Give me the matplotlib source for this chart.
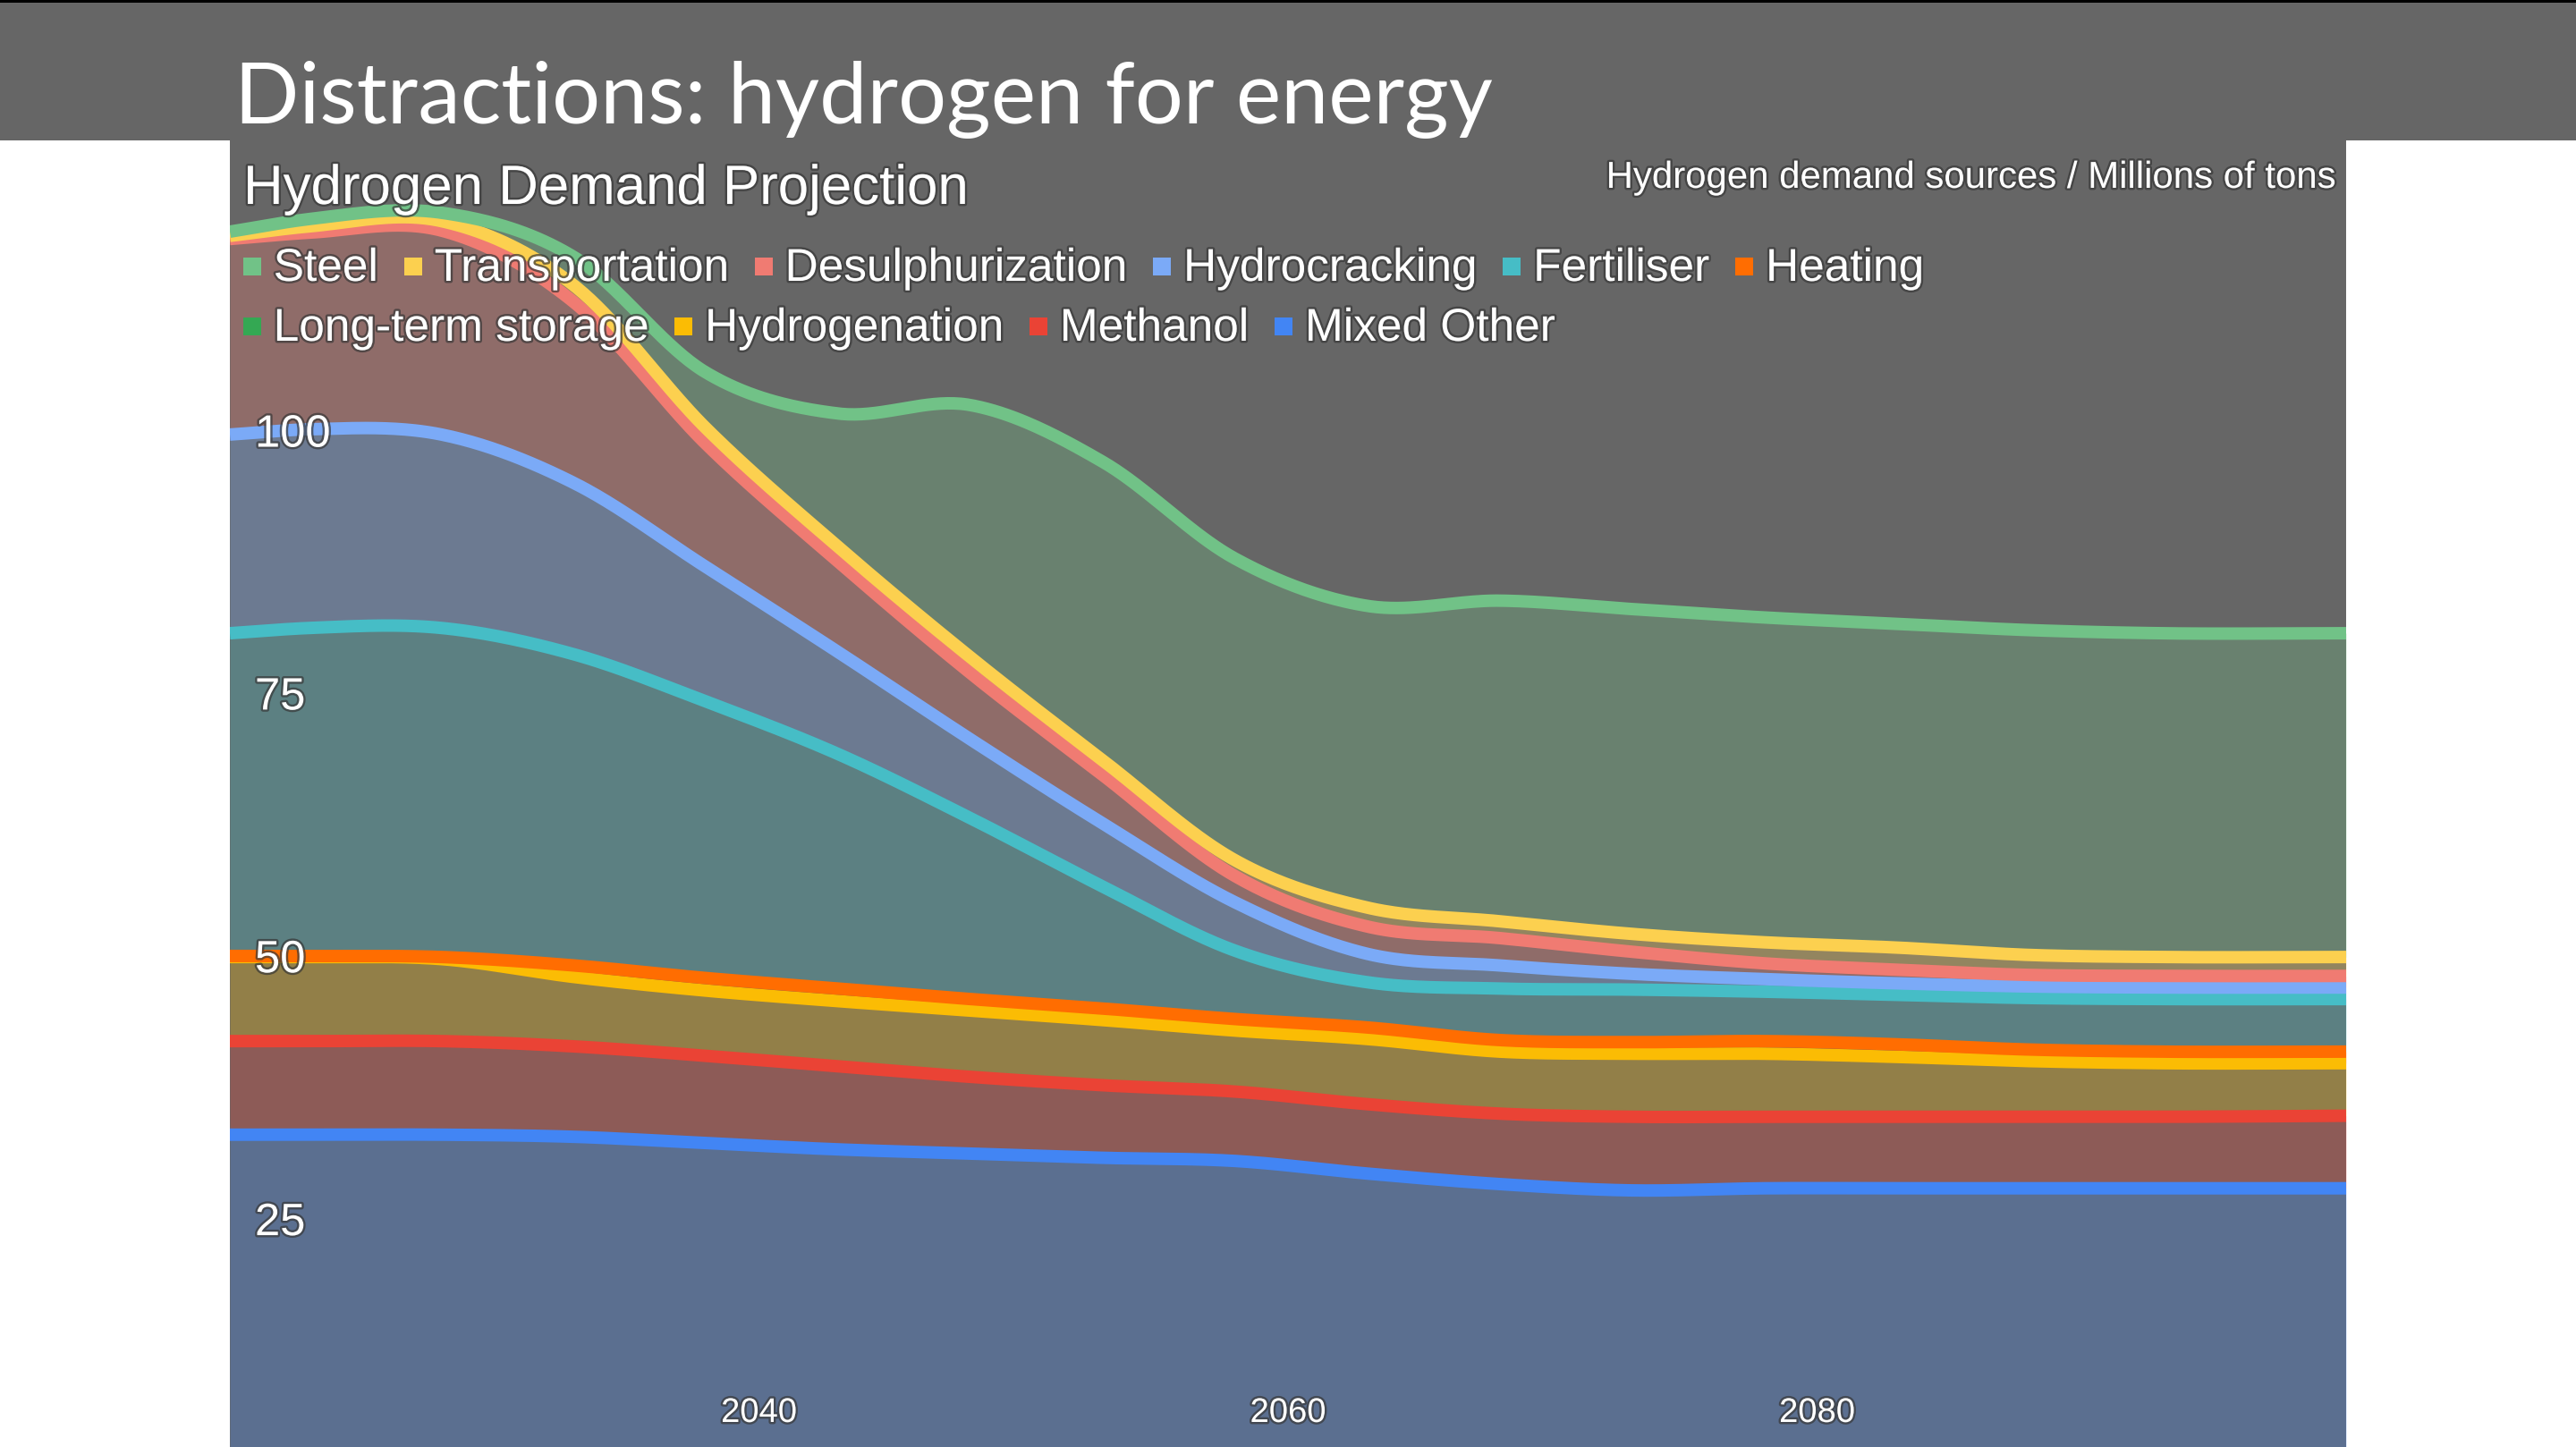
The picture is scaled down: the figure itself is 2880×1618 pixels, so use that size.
import numpy as np
import matplotlib
matplotlib.use('Agg')
import matplotlib.pyplot as plt
from matplotlib import patheffects as pe
from matplotlib.patches import Rectangle
from matplotlib.transforms import offset_copy

W, H, DPI = 2880, 1618, 100

# data (millions of tons, stacked)
years = [2020, 2023, 2028, 2033, 2038, 2043, 2048, 2053, 2058, 2063, 2068, 2073, 2078, 2083, 2088, 2093, 2100]
mixed_other   = [33.0, 33.0, 33.0, 32.8, 32.2, 31.6, 31.2, 30.8, 30.5, 29.3, 28.3, 27.7, 27.9, 27.9, 27.9, 27.9, 27.9]
methanol      = [8.9, 8.9, 8.9, 8.6, 8.3, 7.9, 7.3, 6.9, 6.6, 6.6, 6.7, 7.0, 6.8, 6.8, 6.8, 6.8, 6.9]
hydrogenation = [8.0, 8.0, 7.8, 6.6, 6.2, 6.2, 6.3, 6.2, 5.8, 6.2, 5.9, 6.0, 6.0, 5.7, 5.3, 5.1, 5.0]
long_term     = [0.0] * 17
heating       = [0.1, 0.1, 0.2, 1.1, 1.2, 1.2, 1.1, 1.1, 1.1, 1.1, 1.1, 1.1, 1.2, 1.2, 1.1, 1.1, 1.1]
fertiliser    = [30.7, 31.2, 31.3, 29.6, 26.3, 22.3, 17.2, 11.6, 6.5, 4.3, 4.9, 5.0, 4.7, 4.7, 4.9, 5.0, 5.0]
hydrocracking = [18.9, 18.9, 18.4, 16.3, 12.8, 9.7, 7.5, 6.0, 4.6, 2.7, 2.2, 1.5, 1.2, 1.1, 1.1, 1.1, 1.1]
desulph       = [18.6, 18.7, 19.4, 17.2, 11.7, 8.6, 6.3, 4.6, 2.5, 2.6, 2.6, 2.1, 1.5, 1.3, 1.1, 1.1, 1.1]
transport     = [0.3, 0.6, 0.9, 1.6, 1.5, 1.4, 1.5, 1.4, 1.5, 1.8, 1.6, 1.7, 2.0, 2.1, 1.9, 1.8, 1.8]
steel         = [0.4, 0.7, 0.8, 2.7, 5.3, 12.7, 24.0, 28.4, 28.7, 28.7, 30.5, 30.9, 30.9, 30.8, 30.9, 30.8, 30.8]

# bottom of the stack first
stack = [
    ('Mixed Other', mixed_other, '#4285F4'),
    ('Methanol', methanol, '#EA4335'),
    ('Hydrogenation', hydrogenation, '#FBBC04'),
    ('Long-term storage', long_term, '#34A853'),
    ('Heating', heating, '#FF6D01'),
    ('Fertiliser', fertiliser, '#46BDC6'),
    ('Hydrocracking', hydrocracking, '#7BAAF7'),
    ('Desulphurization', desulph, '#F07B72'),
    ('Transportation', transport, '#FCD04F'),
    ('Steel', steel, '#71C287'),
]
yticks = [25, 50, 75, 100]
xticks = [2040, 2060, 2080]

BG = '#666666'
SANS = ['Liberation Sans', 'DejaVu Sans']
shadow = [pe.withStroke(linewidth=3.5, foreground=(0.22, 0.22, 0.22, 0.7))]


def smooth(x, y, n=40):
    # cubic hermite through the points, like the "function" curve in the source chart
    x = np.asarray(x, float)
    y = np.asarray(y, float)
    m = np.gradient(y, x)
    xs, ys = [], []
    t = np.linspace(0, 1, n, endpoint=False)
    for i in range(len(x) - 1):
        h = x[i + 1] - x[i]
        h00 = 2 * t**3 - 3 * t**2 + 1
        h10 = t**3 - 2 * t**2 + t
        h01 = -2 * t**3 + 3 * t**2
        h11 = t**3 - t**2
        xs.append(x[i] + t * h)
        ys.append(h00 * y[i] + h10 * h * m[i] + h01 * y[i + 1] + h11 * h * m[i + 1])
    xs.append([x[-1]])
    ys.append([y[-1]])
    return np.concatenate(xs), np.concatenate(ys)


def fx(x):
    return x / W


def fy(y):
    return 1 - y / H


fig = plt.figure(figsize=(W / DPI, H / DPI), dpi=DPI, facecolor='white')

# slide header band
fig.patches.append(Rectangle((0, fy(157)), 1, 157 / H, transform=fig.transFigure,
                             facecolor=BG, edgecolor='none', zorder=0))
fig.patches.append(Rectangle((0, fy(3)), 1, 3 / H, transform=fig.transFigure,
                             facecolor='black', edgecolor='none', zorder=0))
fig.text(fx(262), fy(138), 'Distractions: hydrogen for energy', color='white',
         family=['Lato', 'DejaVu Sans'], weight='normal', fontsize=68.6, va='baseline', ha='left')

ax = fig.add_axes([fx(257), 0, (2623 - 257) / W, (H - 157) / H])
ax.set_facecolor(BG)
ax.set_xlim(2020, 2100)
ax.set_ylim(3.29, 127.58)
for s in ax.spines.values():
    s.set_visible(False)
ax.set_xticks([])
ax.set_yticks([])

lw = 14 * 72 / DPI
bottom = None
curves = []
for name, vals, col in stack:
    xs, ys = smooth(years, vals)
    lower = np.zeros_like(ys) if bottom is None else bottom
    upper = lower + ys
    ax.fill_between(xs, lower, upper, color=col, alpha=0.3, lw=0, zorder=1)
    curves.append((xs, upper, col, max(vals) > 0))
    bottom = upper

for xs, upper, col, shown in curves:
    if shown:
        ax.plot(xs, upper, color=col, lw=lw, solid_capstyle='butt', zorder=2)

# axis labels drawn inside the plot
ytr = offset_copy(ax.get_yaxis_transform(), fig=fig, x=0, y=-18.3, units='dots')
for v in yticks:
    ax.text(28 / (2623 - 257), v, str(v), transform=ytr, color='white', fontsize=36.5,
            family=SANS, ha='left', va='baseline', path_effects=shadow, zorder=5)
for v in xticks:
    ax.text(v, 28 / (H - 157), str(v), transform=ax.get_xaxis_transform(), color='white',
            fontsize=27.5, family=SANS, ha='center', va='baseline', path_effects=shadow, zorder=5)

# chart titles
fig.text(fx(272), fy(228), 'Hydrogen Demand Projection', color='white', fontsize=44.5,
         family=SANS, ha='left', va='baseline', path_effects=shadow, zorder=6)
fig.text(fx(2610), fy(210), 'Hydrogen demand sources / Millions of tons', color='white',
         fontsize=30.2, family=SANS, ha='right', va='baseline', path_effects=shadow, zorder=6)

# legend, two rows as in the source
fig.canvas.draw()
rend = fig.canvas.get_renderer()
legend_items = [(n, c) for n, v, c in stack[::-1]]
rows = [(legend_items[:6], 314), (legend_items[6:], 381)]
for items, base in rows:
    x = 271.7
    for name, col in items:
        fig.patches.append(Rectangle((fx(x), fy(base - 6)), 20 / W, 20 / H, transform=fig.transFigure,
                                     facecolor=col, edgecolor='none', zorder=6))
        t = fig.text(fx(x + 34), fy(base), name, color='white', fontsize=37, family=SANS,
                     ha='left', va='baseline', path_effects=shadow, zorder=7)
        bb = t.get_window_extent(renderer=rend)
        x = bb.x1 + 29

fig.savefig('out.png', dpi=DPI, facecolor=fig.get_facecolor())
